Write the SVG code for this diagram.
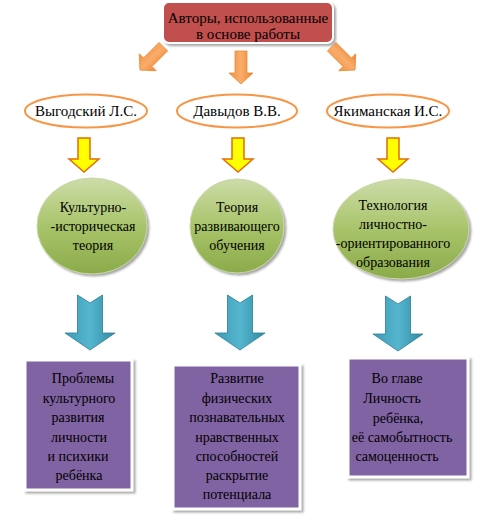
<svg xmlns="http://www.w3.org/2000/svg" width="496" height="519" viewBox="0 0 496 519">
<defs>
<linearGradient id="gGreen" x1="0" y1="0" x2="0" y2="1">
<stop offset="0" stop-color="#cddca8"/>
<stop offset="0.5" stop-color="#a8c46a"/>
<stop offset="1" stop-color="#8bab4a"/>
</linearGradient>
<linearGradient id="gTeal" x1="0" y1="0" x2="1" y2="0">
<stop offset="0" stop-color="#3d9bb4"/>
<stop offset="0.5" stop-color="#56b6cf"/>
<stop offset="1" stop-color="#2f8aa3"/>
</linearGradient>
<linearGradient id="gOrange" x1="0" y1="0" x2="1" y2="0">
<stop offset="0" stop-color="#f3923e"/>
<stop offset="0.5" stop-color="#f9ad6c"/>
<stop offset="1" stop-color="#ee8428"/>
</linearGradient>
<filter id="sh" x="-10%" y="-10%" width="130%" height="130%">
<feDropShadow dx="2" dy="2" stdDeviation="1" flood-color="#808080" flood-opacity="0.7"/>
</filter>
<path id="orangeArrow" d="M-6,-16 L6,-16 L6,6 L12,6 L0,17 L-12,6 L-6,6 Z"/>
<path id="yellowArrow" d="M-6,0 L6,0 L6,21 L15,21 L0,34 L-15,21 L-6,21 Z"/>
<path id="tealArrow" d="M-12.5,0 L0,8 L12.5,0 L12.5,38 L25,38 L0,55 L-25,38 L-12.5,38 Z"/>
</defs>
<rect width="496" height="519" fill="#fff"/>

<g id="connectors">
<g fill="url(#gOrange)" stroke="#e8893a" stroke-width="0.8">
<use href="#orangeArrow" transform="translate(152,58) rotate(45)"/>
<use href="#orangeArrow" transform="translate(241,67)"/>
<use href="#orangeArrow" transform="translate(343,58) rotate(-45)"/>
</g>
<g fill="#ffff00" stroke="#e46c0a" stroke-width="1.5">
<use href="#yellowArrow" transform="translate(84,138)"/>
<use href="#yellowArrow" transform="translate(238,138)"/>
<use href="#yellowArrow" transform="translate(393,138)"/>
</g>
<g fill="url(#gTeal)" stroke="#2c7d93" stroke-width="0.8">
<use href="#tealArrow" transform="translate(90,295)"/>
<use href="#tealArrow" transform="translate(240,295)"/>
<use href="#tealArrow" transform="translate(398,296)"/>
</g>
</g>

<g id="top">
<rect x="163" y="2" width="170" height="41" rx="6" fill="#c0504d" stroke="#fff" stroke-width="2" filter="url(#sh)"/>
<text font-family="Liberation Serif, serif" font-size="15" text-anchor="middle" x="248" y="23">Авторы, использованные</text>
<text font-family="Liberation Serif, serif" font-size="15" text-anchor="middle" x="248" y="39">в основе работы</text>
</g>

<g fill="#fff" stroke="#f79646" stroke-width="2">
<g id="vygotsky"><ellipse cx="86" cy="111" rx="61" ry="16.5"/></g>
<g id="davydov"><ellipse cx="237" cy="111" rx="60" ry="16.5"/></g>
<g id="yakimanskaya"><ellipse cx="388" cy="111" rx="61" ry="16.5"/></g>
</g>
<g font-family="Liberation Serif, serif" font-size="15" text-anchor="middle">
<text x="86" y="116">Выгодский Л.С.</text>
<text x="237" y="116">Давыдов В.В.</text>
<text x="388" y="116">Якиманская И.С.</text>
</g>

<g fill="url(#gGreen)" stroke="#c9d7a8" stroke-width="1" filter="url(#sh)">
<g id="theory1"><ellipse cx="92" cy="226" rx="55" ry="48"/></g>
<g id="theory2"><ellipse cx="237" cy="226" rx="47" ry="47"/></g>
<g id="theory3"><ellipse cx="401" cy="229" rx="68" ry="50"/></g>
</g>
<g font-family="Liberation Serif, serif" font-size="14" text-anchor="middle">
<text x="93" y="212">Культурно-</text>
<text x="93" y="231">-историческая</text>
<text x="93" y="250">теория</text>
<text x="237" y="212">Теория</text>
<text x="237" y="231">развивающего</text>
<text x="237" y="250">обучения</text>
<text x="393" y="210">Технология</text>
<text x="393" y="229">личностно-</text>
<text x="393" y="248">-ориентированного</text>
<text x="393" y="267">образования</text>
</g>

<g fill="#8064a2" stroke="#fff" stroke-width="3" filter="url(#sh)">
<g id="box1"><rect x="25" y="360" width="107" height="130"/></g>
<g id="box2"><rect x="173" y="365" width="127" height="144"/></g>
<g id="box3"><rect x="348" y="358" width="120" height="119"/></g>
</g>
<g font-family="Liberation Serif, serif" font-size="14" text-anchor="middle">
<text x="83" y="383">Проблемы</text>
<text x="79" y="403">культурного</text>
<text x="78" y="422">развития</text>
<text x="79" y="442">личности</text>
<text x="78" y="461">и психики</text>
<text x="79" y="480">ребёнка</text>
<text x="237" y="383">Развитие</text>
<text x="237" y="403">физических</text>
<text x="237" y="422">познавательных</text>
<text x="237" y="442">нравственных</text>
<text x="237" y="461">способностей</text>
<text x="237" y="480">раскрытие</text>
<text x="237" y="499">потенциала</text>
<text x="397" y="383">Во главе</text>
<text x="392" y="403">Личность</text>
<text x="398" y="423">ребёнка,</text>
<text x="402" y="442">её самобытность</text>
<text x="397" y="461">самоценность</text>
</g>
</svg>
